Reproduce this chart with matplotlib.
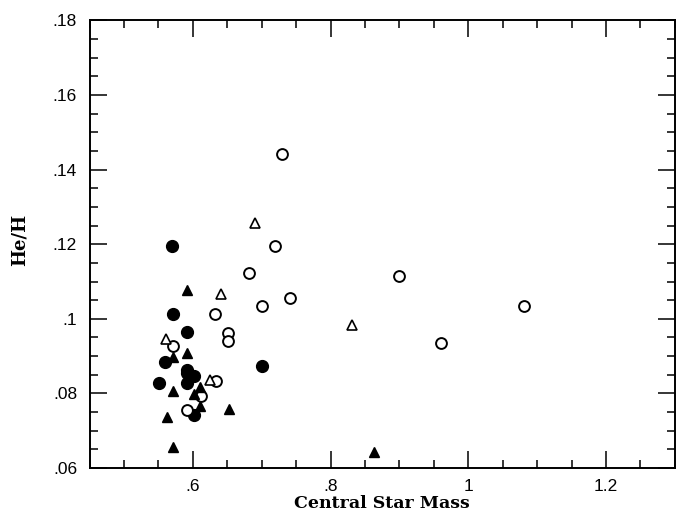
import matplotlib
matplotlib.use("Agg")
import matplotlib.pyplot as plt
from matplotlib.ticker import MultipleLocator, FuncFormatter

# filled circles
fc_mass = [0.570, 0.571, 0.592, 0.559, 0.701, 0.592, 0.592, 0.602, 0.551, 0.592, 0.602]
fc_heh = [0.1196, 0.1014, 0.0964, 0.0885, 0.0874, 0.0864, 0.0854, 0.0846, 0.0827, 0.0827, 0.0742]

# open circles
oc_mass = [0.730, 0.720, 0.681, 0.741, 0.701, 0.632, 0.900, 1.081, 0.961,
           0.651, 0.651, 0.571, 0.633, 0.612, 0.592]
oc_heh = [0.1443, 0.1195, 0.1124, 0.1055, 0.1034, 0.1013, 0.1114, 0.1035, 0.0934,
          0.0961, 0.0941, 0.0927, 0.0834, 0.0793, 0.0755]

# filled triangles
ft_mass = [0.592, 0.571, 0.592, 0.611, 0.571, 0.602, 0.611, 0.652, 0.562, 0.571, 0.863]
ft_heh = [0.1077, 0.0898, 0.0907, 0.0818, 0.0807, 0.0798, 0.0767, 0.0757, 0.0736, 0.0655, 0.0642]

# open triangles
ot_mass = [0.691, 0.641, 0.561, 0.625, 0.831]
ot_heh = [0.1256, 0.1066, 0.0947, 0.0836, 0.0983]

fig = plt.figure(figsize=(6.76, 5.12), dpi=100)
ax = fig.add_axes([0.1324, 0.086, 0.866, 0.874])

ax.plot(fc_mass, fc_heh, "o", color="black", markersize=8.5, linestyle="none")
ax.plot(oc_mass, oc_heh, "o", markerfacecolor="white", markeredgecolor="black",
        markeredgewidth=1.4, markersize=7.8, linestyle="none")
ax.plot(ft_mass, ft_heh, "^", color="black", markersize=7, linestyle="none")
ax.plot(ot_mass, ot_heh, "^", markerfacecolor="white", markeredgecolor="black",
        markeredgewidth=1.2, markersize=6.5, linestyle="none")

ax.set_xlim(0.45, 1.3)
ax.set_ylim(0.06, 0.18)

ax.xaxis.set_major_locator(MultipleLocator(0.2))
ax.xaxis.set_minor_locator(MultipleLocator(0.05))
ax.yaxis.set_major_locator(MultipleLocator(0.02))
ax.yaxis.set_minor_locator(MultipleLocator(0.005))


def short(v, pos):
    s = "%g" % round(v, 4)
    if s.startswith("0."):
        s = s[1:]
    return s


ax.xaxis.set_major_formatter(FuncFormatter(short))
ax.yaxis.set_major_formatter(FuncFormatter(short))

ax.tick_params(which="both", direction="in", top=True, right=True, colors="black")
ax.tick_params(which="major", length=12, width=1.1)
ax.tick_params(which="minor", length=6, width=1.1)
ax.tick_params(axis="x", which="major", pad=8, labelsize=12.5)
ax.tick_params(axis="y", which="major", pad=9, labelsize=12.5)
for lab in ax.get_xticklabels() + ax.get_yticklabels():
    lab.set_family("Liberation Sans")

for sp in ax.spines.values():
    sp.set_linewidth(1.4)

ax.set_xlabel("Central Star Mass", family="DejaVu Serif", fontsize=12.5,
              fontweight="bold", va="center")
ax.xaxis.set_label_coords(0.5, -0.079)
ax.set_ylabel("He/H", family="DejaVu Serif", fontsize=13,
              fontweight="bold", va="center")
ax.yaxis.set_label_coords(-0.119, 0.509)

fig.savefig("out.png", dpi=100)
